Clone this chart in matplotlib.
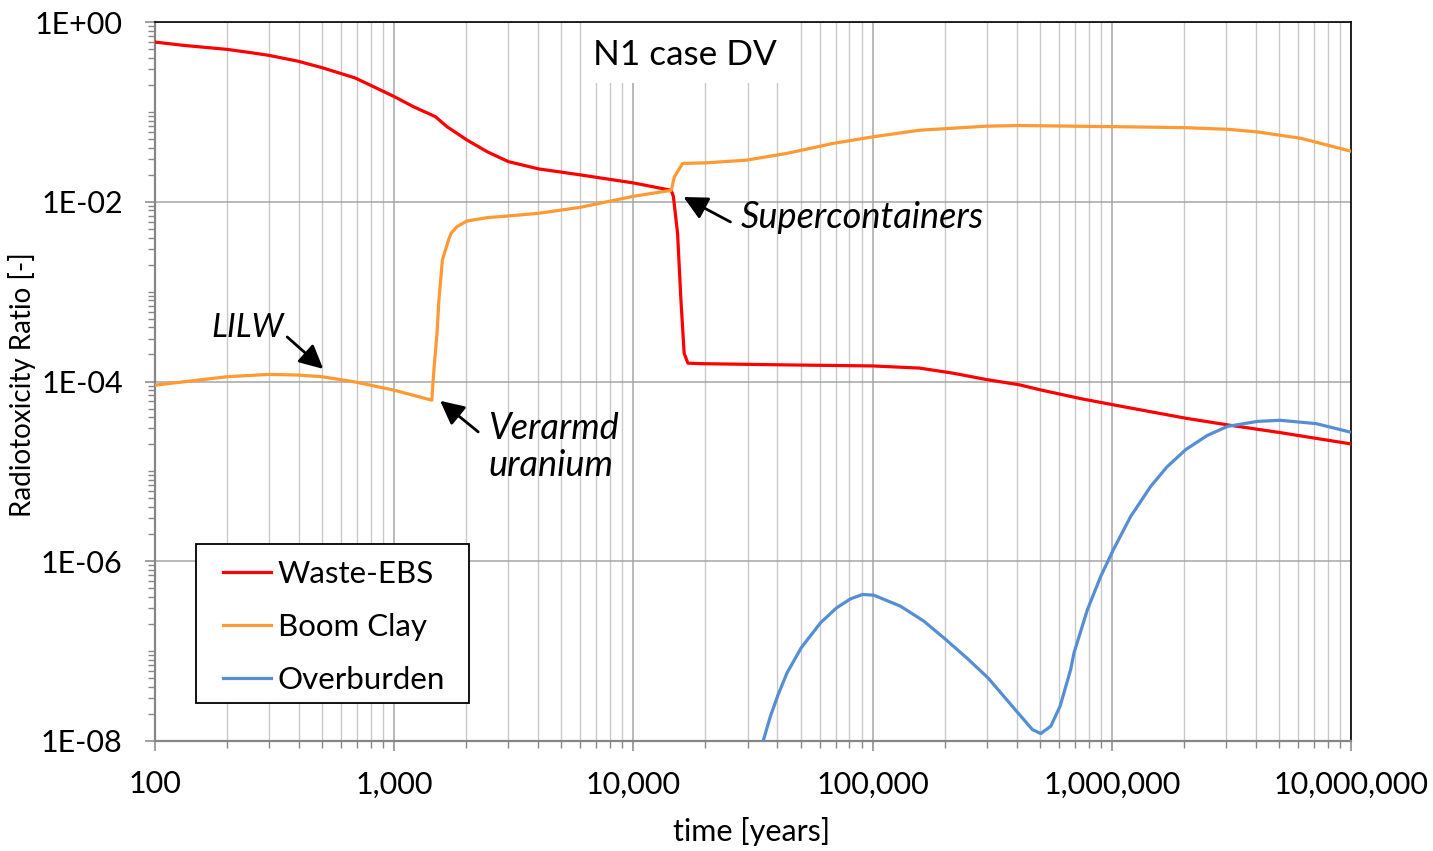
import matplotlib
matplotlib.use("Agg")
import matplotlib.pyplot as plt
from matplotlib.ticker import LogLocator, FuncFormatter, NullFormatter
from matplotlib.patches import Rectangle

plt.rcParams['font.family'] = ['Lato', 'DejaVu Sans']

# ---------------- data ----------------
waste_t = [100, 132, 200, 253, 300, 395, 500, 685, 873, 1000, 1205, 1486, 1661, 2013,
           2443, 3008, 4015, 5035, 6000, 10000, 14400, 14700, 15300, 15800, 16300,
           16900, 19000, 43500, 100000, 157000, 216000, 300000, 410000, 503000,
           741000, 1016000, 2040000, 3050000, 5060000, 10000000]
waste_v = [0.598, 0.549, 0.496, 0.455, 0.425, 0.367, 0.31, 0.239, 0.176, 0.148, 0.114,
           0.0885, 0.0685, 0.0487, 0.0361, 0.0279, 0.0232, 0.0213, 0.0199, 0.0162,
           0.0134, 0.0114, 0.00445, 0.00081, 0.000206, 0.00016, 0.000158, 0.000153,
           0.000149, 0.000141, 0.000124, 0.000105, 0.000092, 0.0000807, 0.0000645,
           0.000055, 0.000039, 0.0000329, 0.000027, 0.0000202]

clay_t = [100, 200, 300, 395, 500, 685, 1000, 1436, 1469, 1510, 1538, 1590, 1687,
          1730, 1829, 2013, 2443, 3008, 4015, 6000, 10000, 14400, 14840, 16060,
          20100, 29600, 43500, 68100, 100000, 157000, 298000, 410000, 1000000,
          2000000, 3050000, 4070000, 6180000, 10000000]
clay_v = [9.1e-5, 1.13e-4, 1.2e-4, 1.18e-4, 1.13e-4, 9.9e-5, 8.0e-5, 6.2e-5, 1.46e-4,
          3.43e-4, 8.07e-4, 2.25e-3, 3.76e-3, 4.47e-3, 5.28e-3, 6.1e-3, 6.65e-3,
          6.95e-3, 7.44e-3, 8.67e-3, 1.15e-2, 1.34e-2, 1.9e-2, 2.67e-2, 2.71e-2,
          2.9e-2, 3.44e-2, 4.45e-2, 5.27e-2, 6.25e-2, 6.93e-2, 7.05e-2, 6.85e-2,
          6.68e-2, 6.4e-2, 5.98e-2, 5.08e-2, 3.65e-2]

over_t = [34870, 37400, 40300, 43900, 50300, 60600, 70700, 80900, 90800, 101200,
          130900, 164000, 202000, 249000, 303500, 405000, 465600, 504700, 555600,
          608000, 673000, 695000, 791000, 899000, 1016000, 1200000, 1455000, 1700000,
          2040000, 2500000, 3050000, 4070000, 5060000, 7140000, 9850000]
over_v = [1e-8, 1.89e-8, 3.29e-8, 5.74e-8, 1.09e-7, 2.07e-7, 3.03e-7, 3.82e-7,
          4.27e-7, 4.19e-7, 3.16e-7, 2.15e-7, 1.35e-7, 8.28e-8, 5.05e-8, 2.06e-8,
          1.34e-8, 1.21e-8, 1.46e-8, 2.44e-8, 6.24e-8, 9.57e-8, 2.9e-7, 6.8e-7,
          1.35e-6, 3.16e-6, 6.82e-6, 1.12e-5, 1.75e-5, 2.5e-5, 3.17e-5, 3.6e-5,
          3.7e-5, 3.4e-5, 2.75e-5]

series_names = ["Waste-EBS", "Boom Clay", "Overburden"]
series_colors = ["#ff0000", "#ff9933", "#558ed5"]

title_text = "N1 case DV"
x_label = "time [years]"
y_label = "Radiotoxicity Ratio [-]"

# ---------------- figure ----------------
W, H = 1433, 851
fig = plt.figure(figsize=(W / 100, H / 100), dpi=100)
L, R, T, B = 155, 1351, 22, 741
ax = fig.add_axes([L / W, (H - B) / H, (R - L) / W, (B - T) / H])


def ax_x(px):
    return (px - L) / (R - L)


def ax_y(py):
    return (B - py) / (B - T)


ax.set_xscale('log')
ax.set_yscale('log')
ax.set_xlim(100, 1e7)
ax.set_ylim(1e-8, 1)

ax.plot(waste_t, waste_v, color=series_colors[0], lw=2.3, label=series_names[0], zorder=3)
ax.plot(clay_t, clay_v, color=series_colors[1], lw=2.3, label=series_names[1], zorder=3)
ax.plot(over_t, over_v, color=series_colors[2], lw=2.3, label=series_names[2], zorder=3)

# ticks
ax.xaxis.set_major_locator(LogLocator(base=10, numticks=20))
ax.xaxis.set_minor_locator(LogLocator(base=10, subs=range(2, 10), numticks=20))
ax.yaxis.set_major_locator(LogLocator(base=100, numticks=20))
ax.yaxis.set_minor_locator(LogLocator(base=10, subs=range(1, 10), numticks=40))
ax.xaxis.set_major_formatter(FuncFormatter(lambda v, p: f"{v:,.0f}"))
ax.yaxis.set_major_formatter(FuncFormatter(lambda v, p: f"{v:.0E}"))
ax.xaxis.set_minor_formatter(NullFormatter())
ax.yaxis.set_minor_formatter(NullFormatter())

tick_col = '#868686'
ax.tick_params(which='major', direction='out', length=7.2, width=1.1, color=tick_col,
               labelsize=22, labelcolor='black')
ax.tick_params(which='minor', direction='out', length=5.0, width=1.0, color=tick_col)
ax.tick_params(axis='y', which='major', pad=16)
ax.tick_params(axis='x', which='major', pad=14)

# grid
ax.set_axisbelow(True)
ax.grid(True, which='major', axis='both', color='#a6a6a6', lw=1.1)
ax.grid(True, which='minor', axis='x', color='#c8c8c8', lw=1.0)

for s in ['left', 'bottom']:
    ax.spines[s].set_color(tick_col)
    ax.spines[s].set_linewidth(1.6)
for s in ['top', 'right']:
    ax.spines[s].set_color('black')
    ax.spines[s].set_linewidth(1.2)

# labels
ax.set_xlabel(x_label, fontsize=22)
ax.xaxis.label.set_va('center')
ax.xaxis.set_label_coords(ax_x(752), ax_y(832))
ax.set_ylabel(y_label, fontsize=20)
ax.yaxis.label.set_va('center')
ax.yaxis.set_label_coords(ax_x(22), ax_y(385))

# title with white box
ax.add_patch(Rectangle((ax_x(582), ax_y(83)), ax_x(800) - ax_x(582),
                       ax_y(T) - ax_y(83), transform=ax.transAxes,
                       facecolor='white', edgecolor='none', zorder=1.5, clip_on=False))
ax.text(ax_x(685), ax_y(55), title_text, transform=ax.transAxes,
        ha='center', va='center', fontsize=25.3, zorder=4)

# annotations
arrow = dict(arrowstyle='-|>,head_length=0.9,head_width=0.45', color='black', lw=2.0,
             shrinkA=0, shrinkB=0, mutation_scale=16)
ax.annotate("", xy=(505, 1.38e-4), xytext=(357, 3.13e-4), arrowprops=arrow, zorder=5)
ax.text(243, 3.95e-4, "LILW", fontsize=24, style='italic', ha='center', va='center')

ax.annotate("", xy=(1556, 6.1e-5), xytext=(2245, 2.75e-5), arrowprops=arrow, zorder=5)
ax.text(2472, 1.87e-5, "Verarmd\nuranium", fontsize=26, style='italic', ha='left',
        va='center', linespacing=1.18)

ax.annotate("", xy=(16200, 0.0113), xytext=(25460, 5.96e-3), arrowprops=arrow, zorder=5)
ax.text(28050, 6.6e-3, "Supercontainers", fontsize=26, style='italic', ha='left',
        va='center')

# legend (frame drawn separately for exact box size)
ax.add_patch(Rectangle((ax_x(196), ax_y(703)), ax_x(469) - ax_x(196),
                       ax_y(544) - ax_y(703), transform=ax.transAxes,
                       facecolor='white', edgecolor='black', lw=1.3, zorder=5.5))
leg = ax.legend(loc='upper left', bbox_to_anchor=(ax_x(223), ax_y(559.6)),
                borderaxespad=0, fontsize=22.5, frameon=False,
                handlelength=1.55, handletextpad=0.2,
                labelspacing=0.8, borderpad=0)
leg.set_zorder(6)

fig.savefig("out.png", dpi=100)
